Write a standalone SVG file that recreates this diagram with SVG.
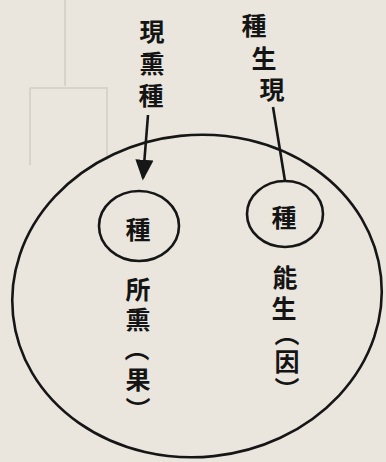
<svg xmlns="http://www.w3.org/2000/svg" width="386" height="462" viewBox="0 0 386 462">
<defs>
<style>
.bg-line{fill:none;stroke:#d8d3c9;stroke-width:2}
.ln{fill:none;stroke:#161616;stroke-width:2.6}
.t{font-family:"Noto Sans CJK TC","Noto Sans CJK SC",sans-serif;font-size:25px;font-weight:700;fill:#141414;text-anchor:middle;dominant-baseline:central}
</style>
<marker id="arr" markerWidth="8" markerHeight="8" refX="7" refY="4" orient="auto" markerUnits="strokeWidth">
<path d="M0,0.5 L8,4 L0,7.5 Z" fill="#161616"/>
</marker>
</defs>
<rect width="386" height="462" fill="#eae6de"/>
<g id="background">
<path class="bg-line" d="M65,0 V86 M30,88 H108 M30,88 V165 M107,88 V160"/>
</g>
<g id="outer">
<ellipse cx="197" cy="296" rx="185" ry="161" transform="rotate(-6 197 296)" class="ln"/>
</g>
<g id="seed-left">
<ellipse cx="139" cy="226" rx="40" ry="35" class="ln"/>
<text class="t" x="138" y="228">種</text>
</g>
<g id="seed-right">
<ellipse cx="285" cy="214" rx="38" ry="33" class="ln"/>
<text class="t" x="284" y="216">種</text>
</g>
<g id="label-top-left">
<text class="t" x="152" y="30">現</text>
<text class="t" x="152" y="62">熏</text>
<text class="t" x="151" y="94">種</text>
</g>
<g id="label-top-right">
<text class="t" x="254" y="24">種</text>
<text class="t" x="264" y="57">生</text>
<text class="t" x="272" y="88">現</text>
</g>
<g id="label-left">
<text class="t" x="138" y="288">所</text>
<text class="t" x="138" y="318">熏</text>
<text class="t" x="137" y="347">︵</text>
<text class="t" x="138" y="378">果</text>
<text class="t" x="138" y="408">︶</text>
</g>
<g id="label-right">
<text class="t" x="285" y="276">能</text>
<text class="t" x="284" y="307">生</text>
<text class="t" x="287" y="332">︵</text>
<text class="t" x="287" y="360">因</text>
<text class="t" x="287" y="388">︶</text>
</g>
<g id="connectors">
<path class="ln" d="M148,115 L143,178" marker-end="url(#arr)"/>
<path class="ln" d="M273,107 L285,181"/>
</g>
</svg>
